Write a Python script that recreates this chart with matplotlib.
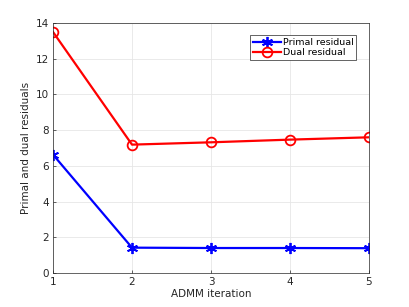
import matplotlib
matplotlib.use('Agg')
import matplotlib.pyplot as plt

# ADMM 迭代残差
iters = [1, 2, 3, 4, 5]
primal = [6.63, 1.42, 1.40, 1.40, 1.39]
dual = [13.5, 7.19, 7.32, 7.47, 7.60]

plt.rcParams['font.family'] = ['DejaVu Sans']
plt.rcParams['font.size'] = 7.5

fig = plt.figure(figsize=(4.09, 3.07), dpi=100)
ax = fig.add_axes([0.1296, 0.1107, 0.7726, 0.8143])

ax.plot(iters, primal, color='#0000ff', lw=1.6, marker=(6, 2, 0), ms=8,
        mew=1.3, label='Primal residual')
ax.plot(iters, dual, color='#ff0000', lw=1.6, marker='o', ms=7,
        mfc='none', mew=1.3, label='Dual residual')

ax.set_xlim(1, 5)
ax.set_ylim(0, 14)
ax.set_xticks(iters)
ax.set_yticks(range(0, 15, 2))
ax.grid(True, color='#e6e6e6', lw=0.6)
ax.set_axisbelow(True)
ax.tick_params(direction='in', length=2.5, width=0.5, colors='#262626', pad=3)
for s in ax.spines.values():
    s.set_color('#262626')
    s.set_linewidth(0.5)

ax.set_xlabel('ADMM iteration', color='#262626', labelpad=1)
ax.set_ylabel('Primal and dual residuals', color='#262626', labelpad=3)

leg = ax.legend(loc='upper right', bbox_to_anchor=(0.975, 0.97), fontsize=6.8,
                fancybox=False, framealpha=1, edgecolor='#262626',
                handlelength=3, borderpad=0.3, labelspacing=0.15, handletextpad=0.2)
leg.get_frame().set_linewidth(0.5)

fig.savefig('out.png', dpi=100)
